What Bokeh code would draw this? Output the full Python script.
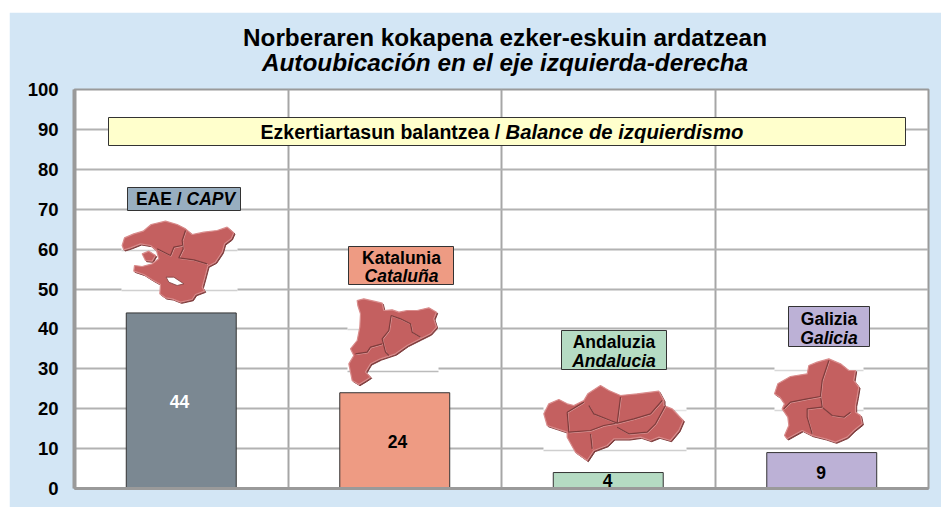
from bokeh.plotting import figure
from bokeh.embed import file_html
from bokeh.resources import INLINE
from bokeh.models import Range1d, FixedTicker, Label, ColumnDataSource

# ---- data ----
regions = ["EAE / CAPV", "Katalunia / Cataluña", "Andaluzia / Andalucia", "Galizia / Galicia"]
values = [44, 24, 4, 9]
bar_colors = ["#7B8892", "#EE9B83", "#B5DBC3", "#BCB1D6"]
value_text_colors = ["#FFFFFF", "#000000", "#000000", "#000000"]
y_ticks = [0, 10, 20, 30, 40, 50, 60, 70, 80, 90, 100]
title_eu = "Norberaren kokapena ezker-eskuin ardatzean"
title_es = "Autoubicación en el eje izquierda-derecha"
banner_eu = "Ezkertiartasun balantzea / "
banner_es = "Balance de izquierdismo"

# region outlines (page pixels x3, with crop origin)
eae_origin = (0, 0)
eae_outline = [(365,735),(372,712),(400,700),(428,692),(452,672),(495,662),(530,672),(555,685),(575,702),(610,695),(650,690),(680,680),(700,697),(692,715),(672,730),(665,755),(645,785),(622,797),(612,835),(605,860),(612,872),(585,882),(575,897),(540,905),(515,895),(495,892),(478,880),(480,852),(455,838),(430,822),(400,812),(402,795),(425,798),(455,790),(475,775),(468,750),(450,735),(420,730),(390,742),(370,748)]
eae_islet = [(425,760),(445,752),(465,765),(455,782),(435,780)]
eae_hole = [(497,830),(520,830),(550,850),(530,855),(505,845)]
eae_borders = [[(555,690),(545,720),(548,745),(535,772),(580,778),(620,790)],[(470,745),(510,765),(520,740),(545,735)]]

kat_origin = (300, 230)
kat_outline = [(170,210),(190,205),(220,212),(245,218),(250,240),(275,238),(295,245),(320,240),(350,240),(385,232),(408,245),(400,265),(408,290),(390,310),(360,325),(320,345),(285,370),(240,385),(210,400),(195,425),(210,440),(195,450),(175,462),(155,450),(150,425),(145,400),(160,375),(150,355),(170,330),(178,290),(180,250),(172,225)]
kat_borders = [[(272,255),(265,300),(245,325),(255,365),(265,375)],[(245,340),(210,350),(200,365),(165,370)],[(272,255),(300,265),(330,280),(335,305),(360,320)]]

and_origin = (300, 230)
and_outline = [(730,550),(745,520),(775,507),(800,520),(820,525),(850,510),(862,490),(900,465),(925,480),(960,495),(1010,490),(1075,482),(1090,510),(1090,525),(1115,535),(1148,570),(1135,600),(1110,630),(1075,620),(1050,630),(1020,620),(985,625),(940,625),(920,645),(880,660),(860,690),(825,665),(800,620),(800,605),(770,595),(740,585)]
and_borders = [[(800,545),(805,605),(870,600),(910,585),(950,578)],[(800,545),(850,515)],[(865,525),(880,550),(930,570),(950,578),(960,500)],[(950,578),(1000,565),(1050,550),(1085,510)],[(950,590),(985,610),(1040,605),(1065,580),(1095,525)],[(870,610),(875,655)]]

gal_origin = (700, 280)
gal_outline = [(222,340),(232,310),(270,288),(320,280),(325,255),(350,245),(385,235),(420,250),(445,270),(465,270),(460,300),(475,320),(470,350),(465,375),(465,395),(480,405),(485,430),(460,450),(440,470),(405,485),(375,475),(335,465),(305,450),(260,475),(252,465),(265,435),(262,410),(245,385),(252,370),(238,350)]
gal_borders = [[(385,240),(365,300),(360,345),(365,380),(395,405),(430,410),(450,395)],[(360,348),(320,355),(270,365),(250,385)],[(365,380),(320,385),(320,410),(335,460)]]

# ---- layout ----
FX0, FX1, FY0, FY1 = 74, 928, 488, 89      # frame in page pixels
OX, OY = 9, 12                             # figure origin on the page
FONT = "Liberation Sans"
MAP = "#C46060"; MAP_EDGE = "#D98C8C"; MAP_DARK = "#7E3C3C"
GRID = "#B2B2B2"; SPINE = "#9A9A9A"

p = figure(width=932, height=495, output_backend="svg", toolbar_location=None,
           x_range=Range1d(0, 4), y_range=Range1d(0, 100),
           min_border_left=FX0 - OX, min_border_right=941 - FX1,
           min_border_top=FY1 - OY, min_border_bottom=507 - FY0,
           background_fill_color="#FFFFFF", border_fill_color="#D3E6F5",
           margin=(OY, 0, 0, OX))
p.extra_x_ranges["px"] = Range1d(FX0, FX1)
p.extra_y_ranges["px"] = Range1d(FY0, FY1)
p.outline_line_color = SPINE
p.outline_line_width = 2

p.yaxis.ticker = FixedTicker(ticks=y_ticks)
p.yaxis.axis_line_color = SPINE
p.yaxis.axis_line_width = 4
p.yaxis.major_tick_line_color = None
p.yaxis.minor_tick_line_color = None
p.yaxis.major_label_text_font = FONT
p.yaxis.major_label_text_font_style = "bold"
p.yaxis.major_label_text_font_size = "18.5px"
p.yaxis.major_label_text_color = "#000000"
p.yaxis.major_label_standoff = 10

p.xaxis.ticker = FixedTicker(ticks=[])
p.xaxis.axis_line_color = SPINE
p.xaxis.axis_line_width = 3
p.xaxis.major_tick_line_color = None
p.xaxis.minor_tick_line_color = None

p.xgrid.ticker = FixedTicker(ticks=[1, 2, 3])
p.xgrid.grid_line_color = "#A6A6A6"
p.xgrid.grid_line_width = 2
p.ygrid.ticker = FixedTicker(ticks=y_ticks[1:-1])
p.ygrid.grid_line_color = GRID
p.ygrid.grid_line_width = 2

# titles: labels laid out in the panel above the frame are not clipped to it
for text, style, yy in [(title_es, "bold italic", 62), (title_eu, "bold", 37)]:
    p.add_layout(Label(x=504.5, y=yy, x_range_name="px", y_range_name="px", text=text,
                       text_font=FONT, text_font_style=style, text_font_size="24.3px",
                       text_align="center", text_baseline="middle", text_color="#000000"), "above")


def box(x0, x1, y0, y1, fill, line="#333333", w=1):
    p.quad(left=[x0], right=[x1], bottom=[y1], top=[y0], fill_color=fill,
           line_color=line, line_width=w, x_range_name="px", y_range_name="px")


def txt(x, y, s, size, style="bold", align="center", color="#000000"):
    p.add_layout(Label(x=x, y=y, x_range_name="px", y_range_name="px",
                       text=s, text_font=FONT, text_font_style=style,
                       text_font_size=f"{size}px", text_align=align, text_baseline="middle",
                       text_color=color))


def conv(origin, pts):
    return [origin[0] + a / 3 for a, b in pts], [origin[1] + b / 3 for a, b in pts]


def draw_map(origin, outline, borders, patch_extra=(), holes=()):
    for poly in (outline, *patch_extra):
        xs, ys = conv(origin, poly)
        p.patch([x + 1.2 for x in xs], [y + 1.2 for y in ys], fill_color=MAP_DARK, line_color=MAP_DARK,
                line_width=1, x_range_name="px", y_range_name="px")
    for poly in (outline, *patch_extra):
        xs, ys = conv(origin, poly)
        p.patch(xs, ys, fill_color=MAP, line_color=MAP_EDGE, line_width=1.2,
                x_range_name="px", y_range_name="px")
    for poly in holes:
        xs, ys = conv(origin, poly)
        p.patch(xs, ys, fill_color="#FFFFFF", line_color=MAP_DARK, line_width=0.8,
                x_range_name="px", y_range_name="px")
    for line in borders:
        xs, ys = conv(origin, line)
        p.line([x + 0.7 for x in xs], [y + 0.7 for y in ys], line_color="#DB9A9A", line_width=1,
               x_range_name="px", y_range_name="px")
        p.line(xs, ys, line_color=MAP_DARK, line_width=1.2, x_range_name="px", y_range_name="px")


# white patches behind the map pictures, with their own faint rules
for x0, x1, y0, y1, rules in [(121, 237, 241, 300, [(250, "#D0D0D0"), (290, "#D0D0D0")]),
                              (347, 438, 300, 376, [(329, "#D8D8D8"), (371, "#BBBBBB")]),
                              (543, 686, 385, 462, [(410, "#E4E4E4"), (450, "#CFCFCF")]),
                              (774, 863, 355, 440, [(370, "#D8D8D8"), (410, "#D8D8D8")])]:
    p.quad(left=[x0], right=[x1], bottom=[y1], top=[y0], fill_color="#FFFFFF", line_color=None,
           x_range_name="px", y_range_name="px")
    for yy, col in rules:
        p.line([x0, x1], [yy, yy], line_color=col, line_width=1.5, x_range_name="px", y_range_name="px")

# bars
centers = [i + 0.5 for i in range(len(values))]
src = ColumnDataSource(dict(x=centers, top=values, color=bar_colors, name=regions))
p.vbar(x="x", top="top", bottom=0, width=0.515, fill_color="color", line_color="#333333", line_width=1, source=src)

# maps
draw_map(eae_origin, eae_outline, eae_borders, patch_extra=[eae_islet], holes=[eae_hole])
draw_map(kat_origin, kat_outline, kat_borders)
draw_map(and_origin, and_outline, and_borders)
draw_map(gal_origin, gal_outline, gal_borders)

# value labels
for xx, v, col, yy in zip([179, 397, 607, 820.5], values, value_text_colors, [401, 441, 480, 472]):
    txt(xx, yy, str(v), 17.5, color=col)

# banner
box(108, 905, 117, 145, "#FFFFCC")
txt(505, 131, banner_eu, 19.5, align="right")
txt(505, 131, banner_es, 20.3, style="bold italic", align="left")

# region name boxes
box(127, 240, 187, 210, "#98AEC0")
txt(186, 198.5, "EAE / ", 17.5, align="right")
txt(186, 198.5, "CAPV", 17.5, style="bold italic", align="left")
box(348, 453, 246, 284, "#EE9B83")
txt(401, 257, "Katalunia", 17.5)
txt(401, 275, "Cataluña", 17.5, style="bold italic")
box(561, 666, 330, 369, "#B5DBC3")
txt(613.5, 341, "Andaluzia", 17.5)
txt(613.5, 360, "Andalucia", 17.5, style="bold italic")
box(788, 869, 306, 346, "#BCB1D6")
txt(828.5, 318, "Galizia", 17.5)
txt(828.5, 337, "Galicia", 17.5, style="bold italic")

open("out.html", "w").write(file_html(p, INLINE))
